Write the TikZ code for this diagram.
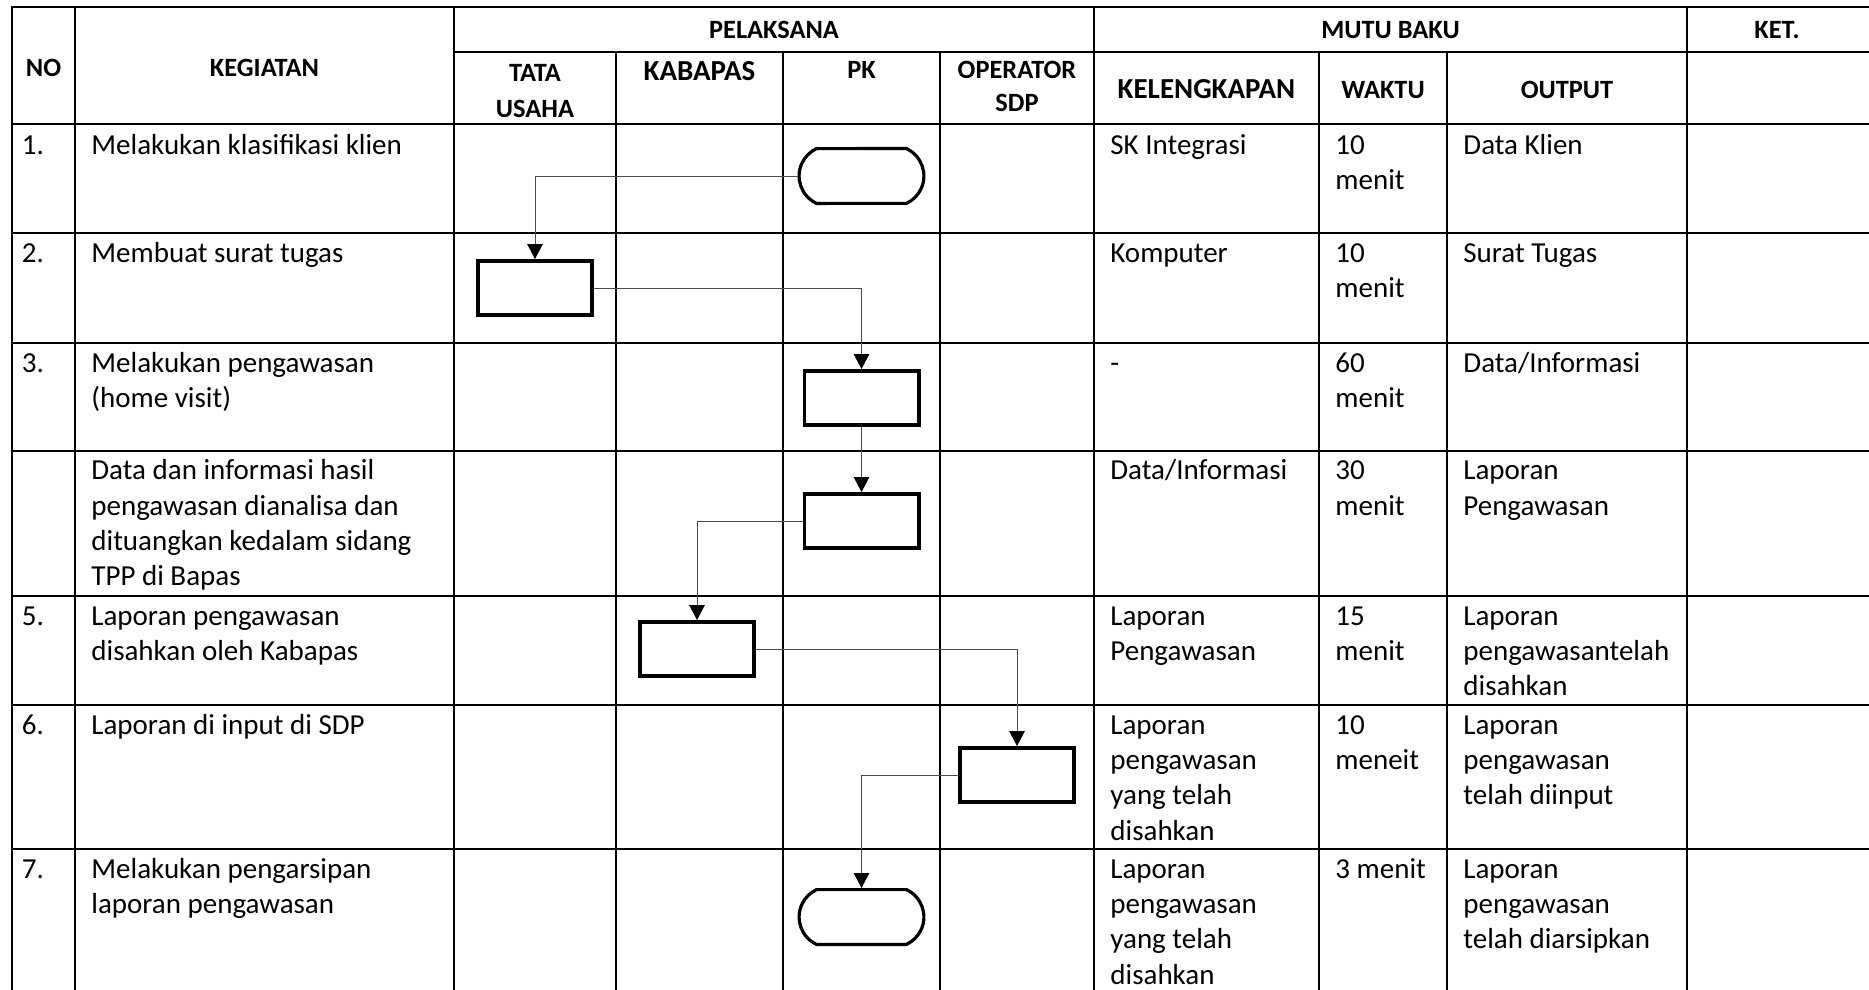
\documentclass[tikz,border=0pt]{standalone}
\usepackage{fontspec}
\setmainfont{Carlito}
\usetikzlibrary{arrows.meta,shapes.misc}

\begin{document}
\begin{tikzpicture}[x=0.5pt, y=-0.5pt,
		tabline/.style={line width=1pt},
		head/.style={font=\fontsize{13.2}{16.2}\selectfont\bfseries, inner sep=0pt, anchor=base},
		cell/.style={font=\fontsize{14.5}{17.6}\selectfont, align=left, inner sep=0pt, anchor=north west},
		box/.style={draw, line width=1.8pt, minimum width=57.2pt, minimum height=27.2pt, inner sep=0pt},
		term/.style={draw, line width=1.6pt, rounded rectangle, rounded rectangle arc length=130, minimum width=62.4pt, minimum height=27.4pt, inner sep=0pt},
		flow/.style={draw=black!70, line width=0.5pt, -{Triangle[length=7.5pt, width=7.8pt, color=black]}}]
			\useasboundingbox (0,0) rectangle (1869,990);
			
			% table rules
			\draw[tabline] (12,990) -- (12,7) -- (1869,7);
			\draw[tabline] (454,52) -- (1869,52);
			\foreach \y in {124,233,343,450.5,596,705,849}
			{	\draw[tabline] (12,\y) -- (1869,\y);
			}
			\foreach \x in {75,454,1094,1687}  % full height
			{	\draw[tabline] (\x,7) -- (\x,990);
			}
			\foreach \x in {616,783,940,1319,1447}  % under PELAKSANA / MUTU BAKU
			{	\draw[tabline] (\x,52) -- (\x,990);
			}
			
			% header
			\node[head] (hNo)    at (43.5  ,  77)   {NO};
			\node[head] (hKeg)   at (264.5 ,  77)   {KEGIATAN};
			\node[head] (hPel)   at (774   ,  39)   {PELAKSANA};
			\node[head] (hMutu)  at (1390.5,  39)   {MUTU BAKU};
			\node[head] (hKet)   at (1777  ,  39)   {KET.};
			\node[head, font=\fontsize{13.2}{18.3}\selectfont\bfseries, align=center, anchor=north] (hTU) at (535, 55.1) {\strut TATA\\USAHA};
			\node[head, font=\fontsize{14.5}{17.6}\selectfont\bfseries] (hKab) at (699.5, 80.7) {KABAPAS};
			\node[head] (hPK)    at (861.5 ,  79)   {PK};
			\node[head, align=center, anchor=north] (hOp) at (1017, 55.6) {\strut OPERATOR\\SDP};
			\node[head, font=\fontsize{14.5}{17.6}\selectfont\bfseries] (hKel) at (1206.5, 98.3) {KELENGKAPAN};
			\node[head] (hWaktu) at (1383  ,  98.3) {WAKTU};
			\node[head] (hOut)   at (1567  ,  98.3) {OUTPUT};
			
			% cell texts, y = top rule of the row
			\foreach \i/\y in {1/125, 2/233, 3/343, 5/596, 6/705, 7/849}
			{	\node[cell] (no\i) at (21.5,\y+4.4) {\strut\i.};
			}
			\def\kegiatan {125/{Melakukan klasifikasi klien}, 233/{Membuat surat tugas}, 343/{Melakukan pengawasan\\(home visit)}, 450.5/{Data dan informasi hasil\\pengawasan dianalisa dan\\dituangkan kedalam sidang\\TPP di Bapas}, 596/{Laporan pengawasan\\disahkan oleh Kabapas}, 705/{Laporan di input di SDP}, 849/{Melakukan pengarsipan\\laporan pengawasan}}
			\foreach \y/\txt [count=\i] in \kegiatan
			{	\node[cell] (keg\i) at (91,\y+4.4) {\strut\txt};
			}
			\def\kelengkapan {125/{SK Integrasi}, 233/{Komputer}, 343/{-}, 450.5/{Data/Informasi}, 596/{Laporan\\Pengawasan}, 705/{Laporan\\pengawasan\\yang telah\\disahkan}, 849/{Laporan\\pengawasan\\yang telah\\disahkan}}
			\foreach \y/\txt [count=\i] in \kelengkapan
			{	\node[cell] (kel\i) at (1110,\y+4.4) {\strut\txt};
			}
			\def\waktu {125/{10\\menit}, 233/{10\\menit}, 343/{60\\menit}, 450.5/{30\\menit}, 596/{15\\menit}, 705/{10\\meneit}, 849/{3 menit}}
			\foreach \y/\txt [count=\i] in \waktu
			{	\node[cell] (wkt\i) at (1335,\y+4.4) {\strut\txt};
			}
			\def\output {125/{Data Klien}, 233/{Surat Tugas}, 343/{Data/Informasi}, 450.5/{Laporan\\Pengawasan}, 596/{Laporan\\pengawasantelah\\disahkan}, 705/{Laporan\\pengawasan\\telah diinput}, 849/{Laporan\\pengawasan\\telah diarsipkan}}
			\foreach \y/\txt [count=\i] in \output
			{	\node[cell] (out\i) at (1463,\y+4.4) {\strut\txt};
			}
			
			% flow symbols
			\node[term] (t1) at (861.5,  176) {};
			\node[box]  (b2) at (535  ,  288) {};
			\node[box]  (b3) at (861.5,  398) {};
			\node[box]  (b4) at (861.5,  521) {};
			\node[box]  (b5) at (697  ,  649) {};
			\node[box]  (b6) at (1017 ,  775) {};
			\node[term] (t7) at (861.5,  917) {};
			
			\def\list {t1/b2, b2/b3, b4/b5, b5/b6, b6/t7}  % sideways, then down
			\foreach \u/\v in \list
			{	\draw[flow] (\u) -| (\v);
			}
			\draw[flow] (b3) -- (b4);
		\end{tikzpicture}
\end{document}
